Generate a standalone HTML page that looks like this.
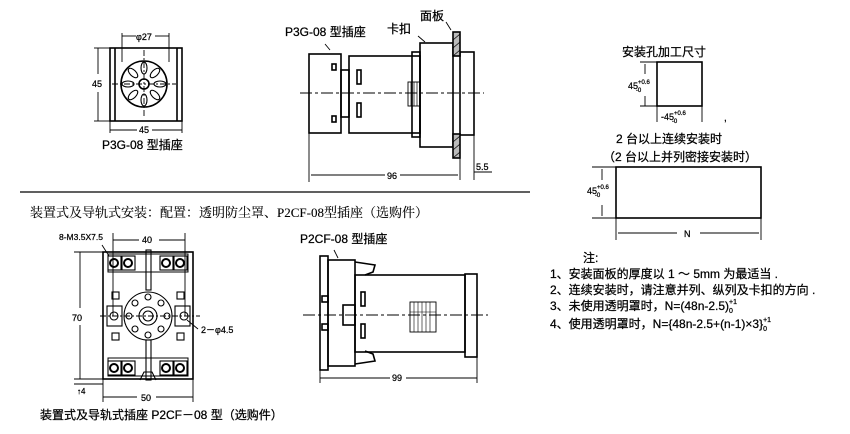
<!DOCTYPE html>
<html><head><meta charset="utf-8"><style>
html,body{margin:0;padding:0;background:#fff;}
svg{display:block;}
text{font-family:"Liberation Sans","Noto Sans CJK SC",sans-serif;fill:#000;stroke:#000;stroke-width:0.25;}
.s{font-family:"Liberation Serif","Noto Serif CJK SC",serif;stroke-width:0.1;}
</style></head><body>
<svg width="850" height="434" viewBox="0 0 850 434" xmlns="http://www.w3.org/2000/svg">
<g stroke="#000" stroke-width="1.6" fill="none">
<rect x="110" y="48" width="72" height="73"/>
<line x1="115" y1="48" x2="115" y2="121"/><line x1="177" y1="48" x2="177" y2="121"/>
<circle cx="144" cy="84" r="23"/>
<circle cx="144" cy="84" r="5"/>
<g stroke-width="1.1">
<ellipse cx="144" cy="68" rx="3" ry="6"/><ellipse cx="144" cy="100" rx="3" ry="6"/>
<ellipse cx="128" cy="84" rx="6" ry="3"/><ellipse cx="160" cy="84" rx="6" ry="3"/>
<ellipse cx="133" cy="73" rx="3" ry="6" transform="rotate(-45 133 73)"/>
<ellipse cx="155" cy="73" rx="3" ry="6" transform="rotate(45 155 73)"/>
<ellipse cx="133" cy="95" rx="3" ry="6" transform="rotate(45 133 95)"/>
<ellipse cx="155" cy="95" rx="3" ry="6" transform="rotate(-45 155 95)"/>
</g>
<g stroke-width="0.9">
<line x1="122" y1="33" x2="122" y2="62"/><line x1="169" y1="33" x2="169" y2="62"/>
<line x1="122" y1="36" x2="136" y2="36"/><line x1="155" y1="36" x2="169" y2="36"/>
<line x1="94" y1="48" x2="110" y2="48"/><line x1="94" y1="121" x2="110" y2="121"/>
<line x1="98" y1="48" x2="98" y2="74"/><line x1="98" y1="92" x2="98" y2="121"/>
<line x1="110" y1="121" x2="110" y2="133"/><line x1="182" y1="121" x2="182" y2="133"/>
<line x1="110" y1="130" x2="137" y2="130"/><line x1="152" y1="130" x2="182" y2="130"/>
<line x1="112" y1="84" x2="176" y2="84" stroke-dasharray="6 2 2 2"/>
<line x1="144" y1="50" x2="144" y2="118" stroke-dasharray="6 2 2 2"/>
</g>
<rect x="309" y="54" width="32" height="79"/>
<rect x="341" y="70" width="8" height="47"/>
<rect x="349" y="56" width="71" height="77"/>
<rect x="412" y="52" width="8" height="85"/>
<rect x="420" y="43" width="33" height="104"/>
<rect x="460" y="52" width="14" height="83"/>
<rect x="332" y="64" width="4" height="6"/><rect x="332" y="116" width="4" height="6"/>
<rect x="357" y="70" width="4" height="14"/><rect x="357" y="103" width="4" height="14"/>
<rect x="408" y="82" width="12" height="24" stroke-width="0.9"/>
<line x1="411" y1="82" x2="411" y2="106" stroke-width="0.7"/><line x1="414" y1="82" x2="414" y2="106" stroke-width="0.7"/><line x1="417" y1="82" x2="417" y2="106" stroke-width="0.7"/>
<rect x="453" y="32" width="7" height="24" fill="#bbb"/>
<rect x="453" y="134" width="7" height="24" fill="#bbb"/>
<g stroke-width="0.7"><line x1="453" y1="40" x2="460" y2="34"/><line x1="453" y1="48" x2="460" y2="42"/><line x1="453" y1="56" x2="460" y2="50"/><line x1="453" y1="142" x2="460" y2="136"/><line x1="453" y1="150" x2="460" y2="144"/><line x1="453" y1="158" x2="460" y2="152"/></g>
<g stroke-width="0.9">
<line x1="300" y1="93" x2="484" y2="93" stroke-dasharray="12 3 3 3"/>
<line x1="309" y1="133" x2="309" y2="182"/><line x1="460" y1="150" x2="460" y2="180"/><line x1="474" y1="135" x2="474" y2="180"/>
<line x1="311" y1="175" x2="385" y2="175"/><line x1="400" y1="175" x2="458" y2="175"/>
<line x1="474" y1="172" x2="492" y2="172"/>
<line x1="330" y1="50" x2="325" y2="44"/><line x1="425" y1="42" x2="418" y2="36"/><line x1="451" y1="30" x2="446" y2="22"/>
</g>
<line x1="20" y1="192" x2="530" y2="192" stroke-width="1.2"/>
<rect x="103" y="252" width="90" height="127"/>
<rect x="108" y="254" width="80" height="18" stroke-width="1"/>
<rect x="108" y="358" width="80" height="18" stroke-width="1"/>
<g stroke-width="1.1">
<rect x="108" y="256" width="13" height="14"/><rect x="122" y="256" width="13" height="14"/>
<rect x="160" y="256" width="13" height="14"/><rect x="174" y="256" width="13" height="14"/>
<rect x="108" y="361" width="13" height="14"/><rect x="122" y="361" width="13" height="14"/>
<rect x="160" y="361" width="13" height="14"/><rect x="174" y="361" width="13" height="14"/>
<g stroke-width="2"><circle cx="114" cy="263" r="4"/><circle cx="128" cy="263" r="4"/><circle cx="166" cy="263" r="4"/><circle cx="180" cy="263" r="4"/>
<circle cx="114" cy="368" r="4"/><circle cx="128" cy="368" r="4"/><circle cx="166" cy="368" r="4"/><circle cx="180" cy="368" r="4"/></g>
<rect x="146" y="250" width="5" height="40"/><rect x="146" y="340" width="5" height="40"/>
<circle cx="148" cy="316" r="24"/><circle cx="148" cy="316" r="9"/><circle cx="148" cy="316" r="5"/>
<circle cx="148" cy="297" r="3"/><circle cx="148" cy="335" r="3"/><circle cx="129" cy="316" r="3"/><circle cx="167" cy="316" r="3"/>
<circle cx="135" cy="303" r="3"/><circle cx="161" cy="303" r="3"/><circle cx="135" cy="329" r="3"/><circle cx="161" cy="329" r="3"/>
<rect x="112" y="292" width="7" height="7"/><rect x="177" y="292" width="7" height="7"/>
<rect x="112" y="333" width="7" height="7"/><rect x="177" y="333" width="7" height="7"/>
<rect x="107" y="306" width="15" height="20"/><rect x="175" y="306" width="15" height="20"/>
<circle cx="114" cy="316" r="4"/><circle cx="184" cy="316" r="4"/>
<path d="M140 380 L144 372 L152 372 L156 380"/>
</g>
<g stroke-width="0.9">
<line x1="113" y1="233" x2="113" y2="316"/><line x1="185" y1="233" x2="185" y2="316"/>
<line x1="113" y1="240" x2="139" y2="240"/><line x1="159" y1="240" x2="185" y2="240"/>
<line x1="74" y1="252" x2="103" y2="252"/><line x1="74" y1="379" x2="103" y2="379"/><line x1="74" y1="384" x2="103" y2="384"/>
<line x1="80" y1="252" x2="80" y2="308"/><line x1="80" y1="325" x2="80" y2="379"/>
<line x1="103" y1="379" x2="103" y2="402"/><line x1="193" y1="379" x2="193" y2="402"/>
<line x1="103" y1="397" x2="137" y2="397"/><line x1="156" y1="397" x2="193" y2="397"/>
<line x1="100" y1="316" x2="200" y2="316" stroke-dasharray="6 2 2 2"/>
<line x1="102" y1="245" x2="109" y2="256"/><line x1="187" y1="320" x2="198" y2="329"/>
</g>
<rect x="320" y="256" width="8" height="114"/>
<rect x="328" y="260" width="27" height="106"/>
<rect x="355" y="275" width="110" height="77"/>
<rect x="465" y="274" width="12" height="83"/>
<path d="M355 262 L375 265 L373 272 L365 275"/><path d="M355 364 L375 361 L373 354 L365 351"/>
<rect x="322" y="296" width="6" height="6"/><rect x="322" y="324" width="6" height="6"/>
<rect x="343" y="305" width="12" height="20"/>
<rect x="361" y="292" width="4" height="14"/><rect x="361" y="324" width="4" height="14"/>
<rect x="410" y="302" width="26" height="30" stroke-width="0.9"/>
<g stroke-width="0.6"><line x1="414" y1="302" x2="414" y2="332"/><line x1="418" y1="302" x2="418" y2="332"/><line x1="422" y1="302" x2="422" y2="332"/><line x1="426" y1="302" x2="426" y2="332"/><line x1="430" y1="302" x2="430" y2="332"/><line x1="410" y1="312" x2="436" y2="312"/></g>
<g stroke-width="0.9">
<line x1="303" y1="315" x2="488" y2="315" stroke-dasharray="12 3 3 3"/>
<line x1="320" y1="370" x2="320" y2="383"/><line x1="477" y1="357" x2="477" y2="383"/>
<line x1="320" y1="378" x2="390" y2="378"/><line x1="406" y1="378" x2="477" y2="378"/>
<line x1="338" y1="258" x2="334" y2="250"/>
</g>
<rect x="657" y="62" width="45" height="44"/>
<rect x="616" y="167" width="145" height="51"/>
<g stroke-width="0.9">
<line x1="640" y1="62" x2="657" y2="62"/><line x1="640" y1="106" x2="657" y2="106"/>
<line x1="645" y1="64" x2="645" y2="74"/><line x1="645" y1="96" x2="645" y2="106"/>
<line x1="657" y1="106" x2="657" y2="122"/><line x1="702" y1="106" x2="702" y2="122"/>
<line x1="592" y1="167" x2="616" y2="167"/><line x1="592" y1="218" x2="616" y2="218"/>
<line x1="602" y1="169" x2="602" y2="180"/><line x1="602" y1="205" x2="602" y2="216"/>
<line x1="616" y1="218" x2="616" y2="240"/><line x1="761" y1="218" x2="761" y2="240"/>
<line x1="618" y1="233" x2="677" y2="233"/><line x1="700" y1="233" x2="759" y2="233"/>
</g>
</g>
<text x="136" y="40" font-size="9">φ27</text>
<text x="92" y="87" font-size="9">45</text>
<text x="139" y="133" font-size="9">45</text>
<text x="102" y="149" font-size="12">P3G-08 型插座</text>
<text x="285" y="36" font-size="12">P3G-08 型插座</text>
<text x="387" y="33" font-size="12">卡扣</text>
<text x="420" y="20" font-size="12">面板</text>
<text x="387" y="179" font-size="9">96</text>
<text x="476" y="170" font-size="9">5.5</text>
<text class="s" x="30" y="217" font-size="13">装置式及导轨式安装：配置：透明防尘罩、P2CF-08型插座（选购件）</text>
<text x="59" y="240" font-size="8.5">8-M3.5X7.5</text>
<text x="142" y="243" font-size="9">40</text>
<text x="72" y="321" font-size="9">70</text>
<text x="201" y="333" font-size="9">2－φ4.5</text>
<text x="77" y="394" font-size="8">↑4</text>
<text x="141" y="401" font-size="9">50</text>
<text x="40" y="419" font-size="12">装置式及导轨式插座 P2CF－08 型（选购件）</text>
<text x="300" y="243" font-size="12">P2CF-08 型插座</text>
<text x="392" y="381" font-size="9">99</text>
<text x="622" y="56" font-size="12">安装孔加工尺寸</text>
<text x="628" y="89" font-size="9">45<tspan font-size="6" dy="-5">+0.6</tspan><tspan font-size="6" dx="-14" dy="8">-0</tspan></text>
<text x="661" y="120" font-size="9">-45<tspan font-size="6" dy="-5">+0.6</tspan><tspan font-size="6" dx="-14" dy="8">-0</tspan></text>
<text x="724" y="121" font-size="10">,</text>
<text x="616" y="143" font-size="12">2 台以上连续安装时</text>
<text x="603" y="161" font-size="12">（2 台以上并列密接安装时）</text>
<text x="587" y="194" font-size="9">45<tspan font-size="6" dy="-5">+0.6</tspan><tspan font-size="6" dx="-14" dy="8">-0</tspan></text>
<text x="684" y="237" font-size="9">N</text>
<text x="583" y="262" font-size="12">注:</text>
<text x="550" y="278" font-size="12">1、安装面板的厚度以 1 ～ 5mm 为最适当 .</text>
<text x="550" y="294" font-size="12">2、连续安装时，请注意并列、纵列及卡扣的方向 .</text>
<text x="550" y="310" font-size="12">3、未使用透明罩时，N=(48n-2.5)<tspan font-size="7" dy="-6">+1</tspan><tspan font-size="7" dx="-8" dy="9">0</tspan></text>
<text x="550" y="328" font-size="12">4、使用透明罩时，N={48n-2.5+(n-1)×3}<tspan font-size="7" dy="-6">+1</tspan><tspan font-size="7" dx="-8" dy="9">0</tspan></text>
</svg>
</body></html>
